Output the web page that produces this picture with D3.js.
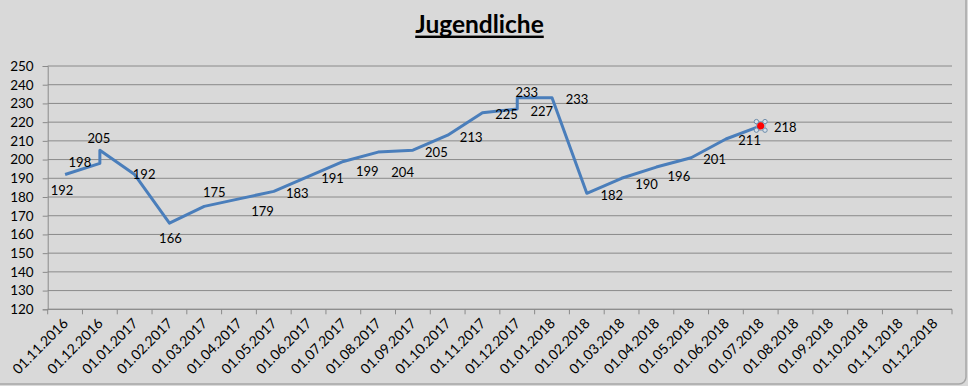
<!DOCTYPE html>
<html><head><meta charset="utf-8">
<script src="https://cdn.jsdelivr.net/npm/d3@7"></script>
<style>
html,body{margin:0;padding:0;background:#d9d9d9;overflow:hidden}
svg{display:block}
text{font-family:Lato,"Open Sans",sans-serif;fill:#000}
</style></head>
<body>
<script>
const title = "Jugendliche";
const categories = ["01.11.2016","01.12.2016","01.01.2017","01.02.2017","01.03.2017","01.04.2017","01.05.2017","01.06.2017","01.07.2017","01.08.2017","01.09.2017","01.10.2017","01.11.2017","01.12.2017","01.01.2018","01.02.2018","01.03.2018","01.04.2018","01.05.2018","01.06.2018","01.07.2018","01.08.2018","01.09.2018","01.10.2018","01.11.2018","01.12.2018"];
const pointDates = ["01.11.2016","01.12.2016","01.12.2016","01.01.2017","01.02.2017","01.03.2017","01.04.2017","01.05.2017","01.06.2017","01.07.2017","01.08.2017","01.09.2017","01.10.2017","01.11.2017","01.12.2017","01.12.2017","01.01.2018","01.02.2018","01.03.2018","01.04.2018","01.05.2018","01.06.2018","01.07.2018"];
const values = [192,198,205,192,166,175,179,183,191,199,204,205,213,225,227,233,233,182,190,196,201,211,218];
const yTicks = [120,130,140,150,160,170,180,190,200,210,220,230,240,250];

// label placement (manual nudges, as in the original chart)
const labelNudge = [[-3,16],[-20,-1],[-1,-11.5],[9.5,0],[1,15.5],[10,-13.6],[23.5,12.8],[23.5,2],[24,2],[24,10],[24.5,20.6],[23.5,2],[23.5,2],[24,1.6],[24.5,2.3],[9.5,-5.5],[25,2],[25,2.5],[25,6],[22.5,9.7],[23.5,1.6],[23.7,1],[24.5,2]];

const W = 968, H = 386;
const svg = d3.select("body").append("svg").attr("width", W).attr("height", H);

// chart border
svg.append("rect").attr("x",-10).attr("y",-10).attr("width",976).attr("height",394)
  .attr("rx",7).attr("fill","#d9d9d9").attr("stroke","#a6a6a6").attr("stroke-width",1.5);

const x = d3.scaleBand().domain(categories).range([47.7, 952]).padding(0);
const y = d3.scaleLinear().domain([120, 250]).range([309.3, 66]);

// gridlines
svg.append("g").selectAll("line").data(yTicks).join("line")
  .attr("x1", 47.7).attr("x2", 952)
  .attr("y1", d => y(d)).attr("y2", d => y(d))
  .attr("stroke", "#8a8a8a").attr("stroke-width", 1);

// y axis
const yAxis = svg.append("g").attr("transform","translate(47.7,0)")
  .call(d3.axisLeft(y).tickValues(yTicks).tickSize(5).tickPadding(9).tickFormat(d3.format("d")));
yAxis.select(".domain").attr("stroke","#8a8a8a");
yAxis.selectAll(".tick line").attr("stroke","#8a8a8a");
yAxis.selectAll("text").attr("font-size","13.5px").attr("font-family","Lato,sans-serif").attr("fill","#000");

// x axis: ticks at category boundaries
const xAxisG = svg.append("g").attr("transform","translate(0,309.3)");
xAxisG.append("line").attr("x1",47.7).attr("x2",952).attr("stroke","#8a8a8a");
const bounds = categories.map(c => x(c)).concat([x(categories[categories.length-1]) + x.bandwidth()]);
xAxisG.selectAll("line.tk").data(bounds).join("line").attr("class","tk")
  .attr("x1", d => d).attr("x2", d => d).attr("y1",0).attr("y2",5).attr("stroke","#8a8a8a");
xAxisG.selectAll("text").data(categories).join("text")
  .attr("text-anchor","end")
  .attr("font-size","14px")
  .attr("transform", d => `translate(${x(d) + x.bandwidth()/2 + 4},${15}) rotate(-45)`)
  .text(d => d);

// line
const pts = values.map((v,i) => ({v, cx: x(pointDates[i]) + x.bandwidth()/2, cy: y(v), i}));
svg.append("path").datum(pts)
  .attr("d", d3.line().x(d => d.cx).y(d => d.cy))
  .attr("fill","none").attr("stroke","#4a7ebb").attr("stroke-width",3).attr("stroke-linejoin","round");

// selected last point marker
const last = pts[pts.length-1];
svg.append("rect").attr("x", last.cx-4.3).attr("y", last.cy-4.3).attr("width",8.6).attr("height",8.6)
  .attr("fill","none").attr("stroke","#8ba3bb").attr("stroke-width",1);
svg.append("circle").attr("cx", last.cx).attr("cy", last.cy).attr("r",3.6).attr("fill","#ff0000");
[[-4.3,-4.3],[4.3,-4.3],[-4.3,4.3],[4.3,4.3]].forEach(([dx,dy]) => {
  svg.append("circle").attr("cx", last.cx+dx).attr("cy", last.cy+dy).attr("r",2.2)
    .attr("fill","#d5e0ea").attr("stroke","#6f8ca8").attr("stroke-width",1);
});

// data labels
svg.append("g").selectAll("text").data(pts).join("text")
  .attr("text-anchor","middle").attr("font-size","13px")
  .attr("x", d => d.cx + labelNudge[d.i][0])
  .attr("y", d => d.cy + labelNudge[d.i][1] + 4.6)
  .text(d => d.v);

// title
const t = svg.append("text").attr("x", 479.5).attr("y", 33.3).attr("text-anchor","middle")
  .attr("font-size","24.5px").attr("font-weight","bold").text(title);
const tw = t.node().getComputedTextLength();
svg.append("rect").attr("x", 479.5 - tw/2).attr("y", 35.6).attr("width", tw).attr("height", 2.4).attr("fill","#000");
</script>
</body></html>
